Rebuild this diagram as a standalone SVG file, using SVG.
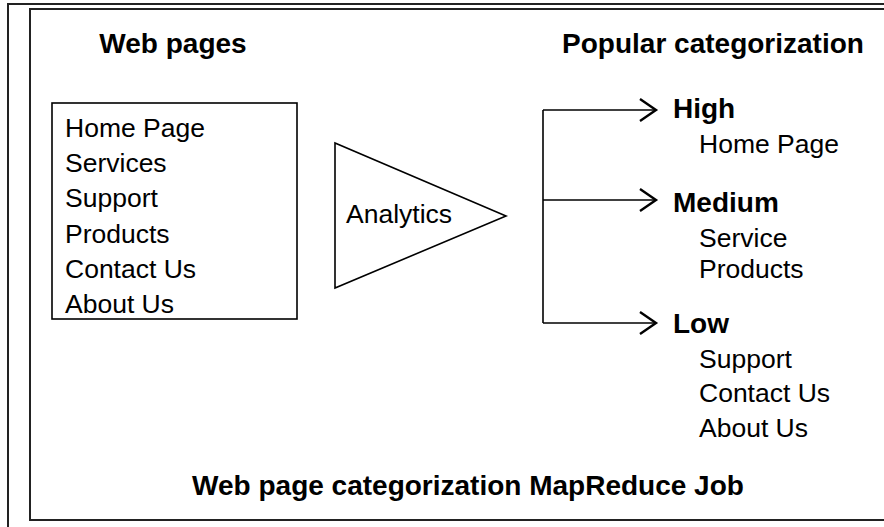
<svg xmlns="http://www.w3.org/2000/svg" width="884" height="527" viewBox="0 0 884 527">
<defs>
<style>
.fr{fill:none;stroke:#222;stroke-width:2}
.ln{fill:none;stroke:#000;stroke-width:1.6}
.t{font-family:"Liberation Sans",Arial,sans-serif;font-size:26.5px;fill:#000}
.b{font-family:"Liberation Sans",Arial,sans-serif;font-size:28px;font-weight:bold;fill:#000}
</style>
<marker id="ah" markerWidth="20" markerHeight="26" refX="17" refY="12" orient="auto" markerUnits="userSpaceOnUse">
<path d="M1,1 L17,12 L1,23" fill="none" stroke="#000" stroke-width="2.4"/>
</marker>
</defs>
<rect width="884" height="527" fill="#fff"/>
<g id="frame">
<path class="fr" d="M8,530 V4 H890" stroke="#555"/>
<path class="fr" d="M30,8 V520 H890 M30,9 H890"/>
</g>
<g id="title-left"><text class="b" x="173" y="53" text-anchor="middle">Web pages</text></g>
<g id="title-right"><text class="b" x="713" y="53" text-anchor="middle">Popular categorization</text></g>
<g id="webpages">
<rect class="ln" x="52" y="103" width="245" height="216"/>
<text class="t" x="65" y="137">Home Page</text>
<text class="t" x="65" y="172">Services</text>
<text class="t" x="65" y="207">Support</text>
<text class="t" x="65" y="243">Products</text>
<text class="t" x="65" y="278">Contact Us</text>
<text class="t" x="65" y="313">About Us</text>
</g>
<g id="analytics">
<path class="ln" d="M335,143 L335,288 L506,216 Z"/>
<text class="t" x="346" y="223">Analytics</text>
</g>
<g id="connectors">
<path class="ln" d="M543,110 V323"/>
<path class="ln" d="M543,110 H656" marker-end="url(#ah)"/>
<path class="ln" d="M543,200 H656" marker-end="url(#ah)"/>
<path class="ln" d="M543,323 H656" marker-end="url(#ah)"/>
</g>
<g id="high">
<text class="b" x="673" y="118">High</text>
<text class="t" x="699" y="153">Home Page</text>
</g>
<g id="medium">
<text class="b" x="673" y="212">Medium</text>
<text class="t" x="699" y="247">Service</text>
<text class="t" x="699" y="278">Products</text>
</g>
<g id="low">
<text class="b" x="673" y="333">Low</text>
<text class="t" x="699" y="368">Support</text>
<text class="t" x="699" y="402">Contact Us</text>
<text class="t" x="699" y="437">About Us</text>
</g>
<g id="caption"><text class="b" x="468" y="495" text-anchor="middle">Web page categorization MapReduce Job</text></g>
</svg>
